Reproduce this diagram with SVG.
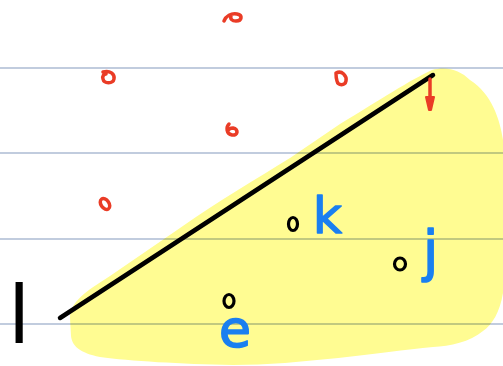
<svg xmlns="http://www.w3.org/2000/svg" width="503" height="366" viewBox="0 0 503 366">
<style>
.rule{stroke:#adbbd3;stroke-width:1.5;fill:none}
.red{fill:none;stroke:#ea3c26;stroke-width:3.5;stroke-linecap:round;stroke-linejoin:round}
.pt{fill:none;stroke:#000;stroke-width:3.2;}
.lbl{font-family:"DejaVu Sans",sans-serif;fill:#1a7ff0;stroke:#1a7ff0;stroke-width:1.6;stroke-linejoin:round}
</style>
<rect width="503" height="366" fill="#fff"/>
<g id="rules">
<line class="rule" x1="0" y1="68" x2="503" y2="68"/>
<line class="rule" x1="0" y1="153" x2="503" y2="153"/>
<line class="rule" x1="0" y1="239" x2="503" y2="239"/>
<line class="rule" x1="0" y1="324" x2="503" y2="324"/>
</g>
<path id="region" style="mix-blend-mode:multiply" fill="#fffc92" d="M 70,318 C 70,302 85,292 110,276 L 180,228 C 220,200 258,178 290,158 L 340,124 C 380,100 410,80 432,70 C 447,66 460,70 470,80 C 492,94 500,120 503,140 L 503,293 C 500,312 492,325 483,331 C 470,342 450,346 433,347 C 380,352 300,365 233,365 C 180,364 130,361 100,357 C 80,353 72,346 71,336 Z"/>
<g id="connectors">
<line x1="60" y1="318" x2="433" y2="75" stroke="#000" stroke-width="4.5" stroke-linecap="round"/>
<path class="red" d="M 430,79 L 430,106" stroke-width="4"/>
<path fill="#ea3c26" stroke="#ea3c26" stroke-width="2" stroke-linejoin="round" d="M 426,97 L 434,97 L 431,110 L 429,110 Z"/>
</g>
<g id="red-points">
<path class="red" d="M 224,21 C 226,16 231,13 237,14 C 243,15 242,21 236,21 C 232,21 230,19 231,16"/>
<path class="red" d="M 103,72 C 110,70 115,74 114,79 C 113,84 104,84 103,79 C 102,76 104,74 106,74"/>
<path class="red" d="M 336,73 C 342,70 347,76 346,81 C 345,86 338,86 337,81 C 336,78 336,75 336,73"/>
<path class="red" d="M 229,124 C 226,127 226,134 232,135 C 238,136 239,129 233,128 C 230,128 228,130 228,131"/>
<ellipse class="red" cx="105" cy="204" rx="4" ry="6" transform="rotate(-35 105 204)"/>
</g>
<g id="node-k">
<ellipse class="pt" cx="293" cy="224" rx="4.5" ry="6.5"/>
<text class="lbl" x="313" y="233" font-size="50">k</text>
</g>
<g id="node-j">
<ellipse class="pt" cx="400" cy="264" rx="5.5" ry="6"/>
<text class="lbl" x="423" y="270" font-size="55">j</text>
</g>
<g id="node-e">
<ellipse class="pt" cx="229" cy="301" rx="5" ry="6.5"/>
<text class="lbl" x="219" y="347" font-size="52">e</text>
</g>
<g id="node-l">
<text x="8" y="343" font-family="DejaVu Sans,sans-serif" font-size="80" fill="#000">l</text>
</g>
</svg>
